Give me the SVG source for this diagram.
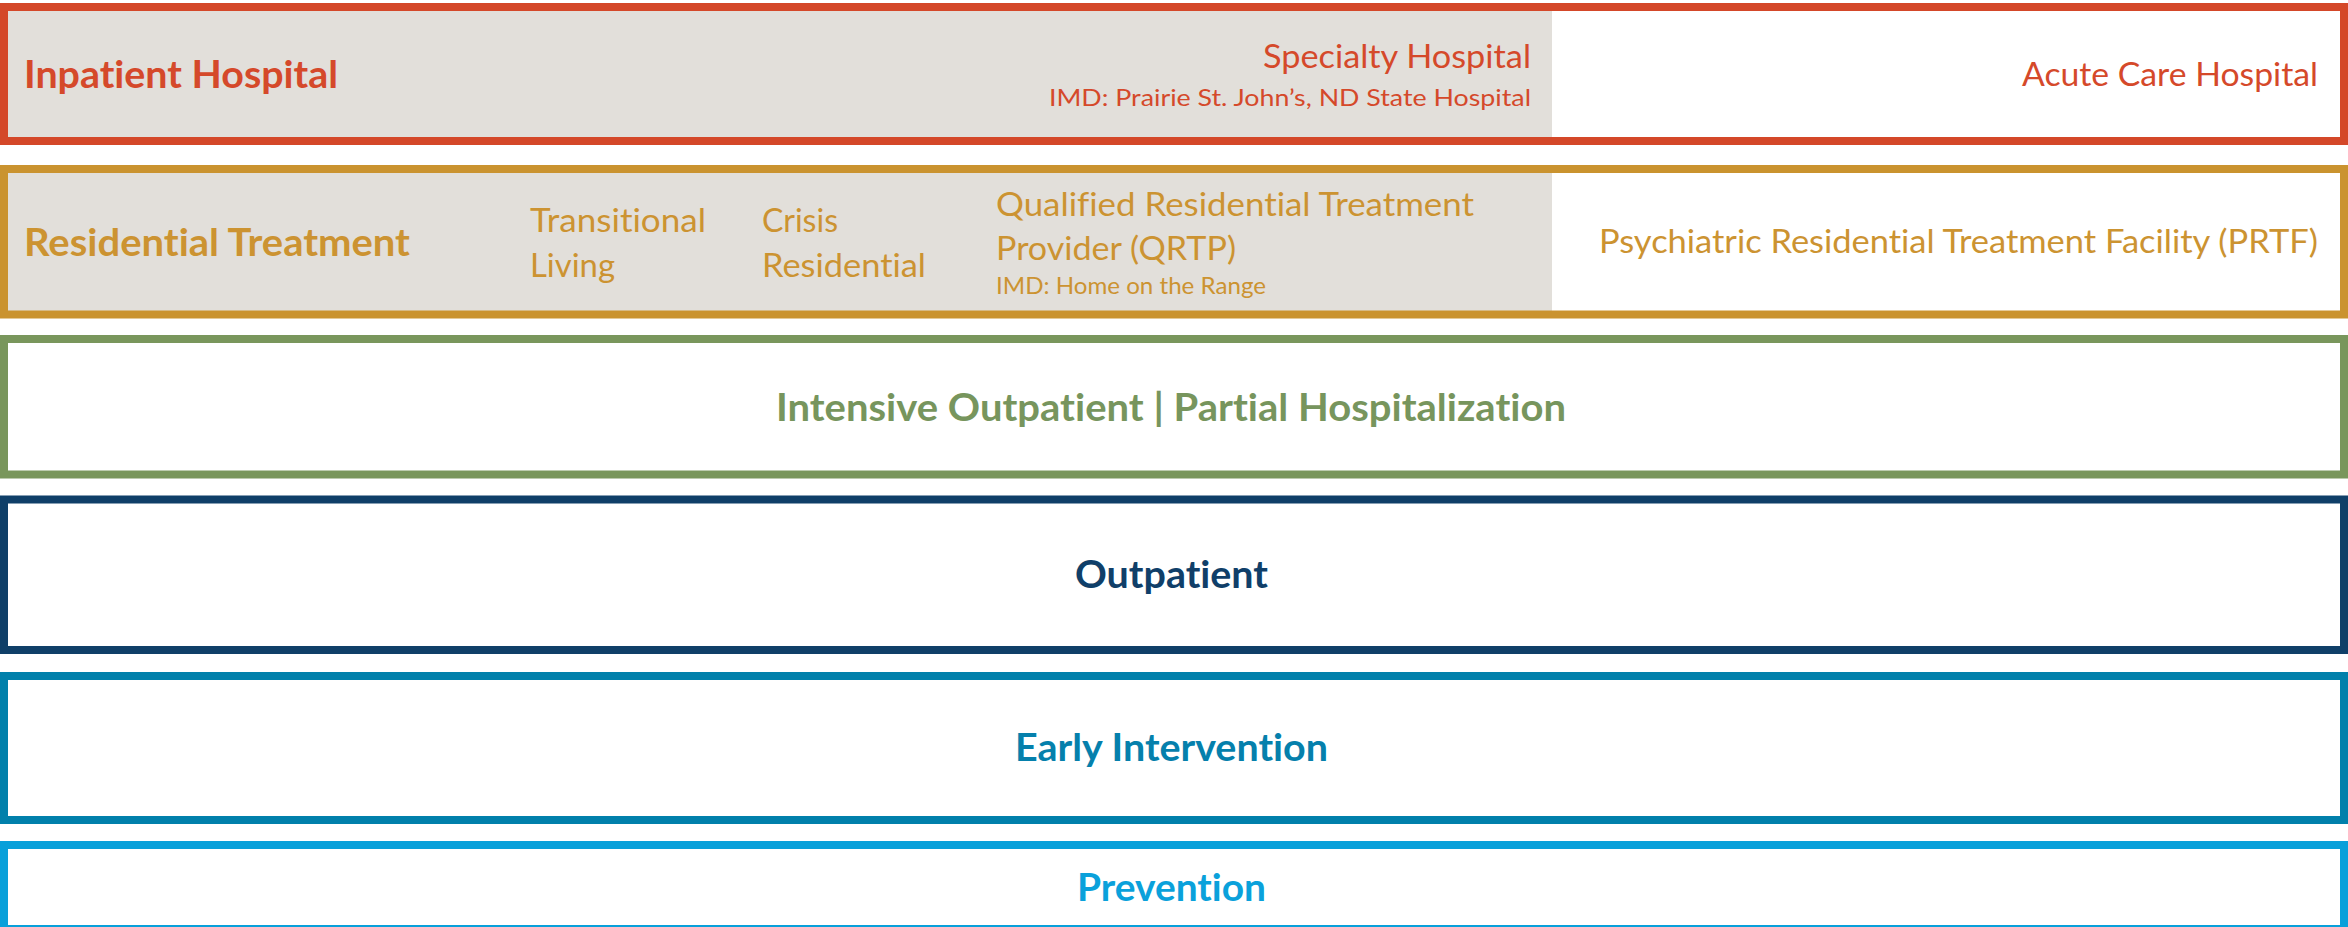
<svg xmlns="http://www.w3.org/2000/svg" width="2348" height="927" viewBox="0 0 2348 927">
<style>
text{font-family:Lato,"Open Sans","Liberation Sans",sans-serif;font-variant-ligatures:none;font-feature-settings:"liga" 0,"clig" 0}
.b{font-weight:700;font-size:38.5px}
.r{font-weight:400;font-size:32px}
.s{font-weight:400;font-size:24px}
.box{fill:none;stroke-width:8}
.gray{fill:#E2DFDA}
</style>
<rect x="0" y="0" width="2348" height="927" fill="#FFFFFF"/>
<g id="inpatient">
<rect class="gray" x="8" y="11" width="1544" height="126"/>
<rect class="box" x="4" y="7" width="2340" height="134" stroke="#D44829"/>
<text class="b" x="24" y="88" fill="#D5492A" textLength="314" lengthAdjust="spacingAndGlyphs">Inpatient Hospital</text>
<text class="r" x="1531" y="68" text-anchor="end" fill="#D5492A" textLength="268" lengthAdjust="spacingAndGlyphs">Specialty Hospital</text>
<text class="s" x="1531" y="106" text-anchor="end" fill="#D5492A" textLength="482" lengthAdjust="spacingAndGlyphs">IMD: Prairie St. John’s, ND State Hospital</text>
<text class="r" x="2318" y="86" text-anchor="end" fill="#D5492A" textLength="296" lengthAdjust="spacingAndGlyphs">Acute Care Hospital</text>
</g>
<g id="residential">
<rect class="gray" x="8" y="173" width="1544" height="138"/>
<rect class="box" x="4" y="169" width="2340" height="145.5" stroke="#CA932F"/>
<text class="b" x="24" y="256" fill="#CC9331" textLength="386" lengthAdjust="spacingAndGlyphs">Residential Treatment</text>
<text class="r" x="530" y="232" fill="#CC9331" textLength="176" lengthAdjust="spacingAndGlyphs">Transitional</text>
<text class="r" x="530" y="277" fill="#CC9331" textLength="85" lengthAdjust="spacingAndGlyphs">Living</text>
<text class="r" x="762" y="232" fill="#CC9331" textLength="76" lengthAdjust="spacingAndGlyphs">Crisis</text>
<text class="r" x="762" y="277" fill="#CC9331" textLength="164" lengthAdjust="spacingAndGlyphs">Residential</text>
<text class="r" x="996" y="216" fill="#CC9331" textLength="478" lengthAdjust="spacingAndGlyphs">Qualified Residential Treatment</text>
<text class="r" x="996" y="260" fill="#CC9331" textLength="240" lengthAdjust="spacingAndGlyphs">Provider (QRTP)</text>
<text class="s" x="996" y="294" fill="#CC9331" textLength="270" lengthAdjust="spacingAndGlyphs">IMD: Home on the Range</text>
<text class="r" x="2318" y="253" text-anchor="end" fill="#CC9331" textLength="719" lengthAdjust="spacingAndGlyphs">Psychiatric Residential Treatment Facility (PRTF)</text>
</g>
<g id="intensive">
<rect class="box" x="4" y="339" width="2340" height="135.5" stroke="#79965C"/>
<text class="b" x="1171" y="421" text-anchor="middle" fill="#77955D" textLength="790" lengthAdjust="spacingAndGlyphs">Intensive Outpatient | Partial Hospitalization</text>
</g>
<g id="outpatient">
<rect class="box" x="4" y="499.5" width="2340" height="150.5" stroke="#0F3F68"/>
<text class="b" x="1171.5" y="588" text-anchor="middle" fill="#103F69" textLength="193" lengthAdjust="spacingAndGlyphs">Outpatient</text>
</g>
<g id="early">
<rect class="box" x="4" y="676" width="2340" height="144" stroke="#0180AB"/>
<text class="b" x="1171.5" y="761" text-anchor="middle" fill="#0580AC" textLength="313" lengthAdjust="spacingAndGlyphs">Early Intervention</text>
</g>
<g id="prevention">
<rect class="box" x="4" y="845" width="2340" height="84" stroke="#08A0DA"/>
<text class="b" x="1171.5" y="901" text-anchor="middle" fill="#0AA1DB" textLength="189" lengthAdjust="spacingAndGlyphs">Prevention</text>
</g>
<g id="connectors"/>
</svg>
